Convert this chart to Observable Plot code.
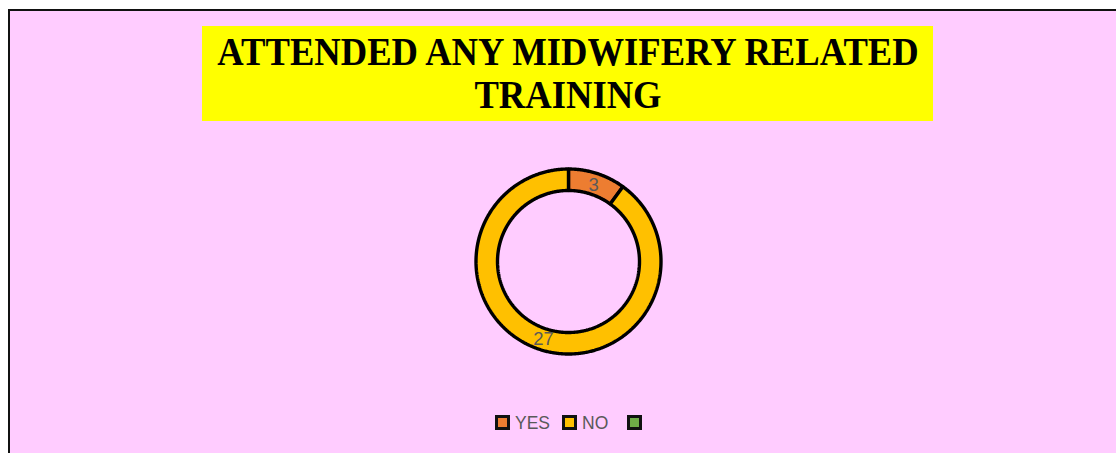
<!DOCTYPE html>
<html>
<head>
<meta charset="utf-8">
<script src="https://cdn.jsdelivr.net/npm/d3@7"></script>
<script src="https://cdn.jsdelivr.net/npm/@observablehq/plot@0.6"></script>
<style>
  html, body { margin: 0; padding: 0; background: #ffffff; width: 1116px; height: 453px; overflow: hidden; }
  #panel { position: absolute; left: 8px; top: 9px; width: 1120px; height: 460px; background: #FFCCFF;
           border-top: 2px solid #111; border-left: 2px solid #111; box-sizing: border-box; }
  #title { position: absolute; left: 202px; top: 26px; width: 731px; height: 95px; background: #FFFF00;
           font-family: "Liberation Serif", "Times New Roman", serif; font-weight: bold; font-size: 40px;
           color: #000; }
  #title .line { position: absolute; left: 50%; white-space: nowrap; line-height: 44px;
                 transform: translateX(-50%) scaleX(0.915); transform-origin: center; }
  #chart { position: absolute; left: 457.8px; top: 151px; }
  #legend { position: absolute; left: 0; top: 413px; width: 1116px; height: 20px;
            font-family: "Liberation Sans", Arial, sans-serif; font-size: 17.5px; color: #595959; }
  .item { position: absolute; top: 0; height: 20px; }
  .sw { position: absolute; top: 2px; width: 15px; height: 15px; box-sizing: border-box; border: 3px solid #111; }
  .lab { position: absolute; top: 0; line-height: 20px; white-space: nowrap; }
</style>
</head>
<body>
<div id="panel"></div>
<div id="title"><div class="line" style="top:4px">ATTENDED ANY MIDWIFERY RELATED</div><div class="line" style="top:46.6px">TRAINING</div></div>
<div id="chart"></div>
<div id="legend"></div>
<script>
const categories = ["YES", "NO", ""];
const values = [3, 27, 0];
const colors = ["#ED7D31", "#FFC000", "#70AD47"];

const outerR = 92.5, innerR = 71, labelR = 81;
const pie = d3.pie().sort(null).value(d => d.value);
const arcs = pie(categories.map((c, i) => ({category: c, value: values[i], color: colors[i]})));

function ringPoints(a) {
  const pts = [];
  const n = Math.max(2, Math.ceil((a.endAngle - a.startAngle) / 0.01));
  for (let k = 0; k <= n; k++) {
    const t = a.startAngle + (a.endAngle - a.startAngle) * k / n;
    pts.push({x: outerR * Math.sin(t), y: -outerR * Math.cos(t)});
  }
  for (let k = n; k >= 0; k--) {
    const t = a.startAngle + (a.endAngle - a.startAngle) * k / n;
    pts.push({x: innerR * Math.sin(t), y: -innerR * Math.cos(t)});
  }
  return pts;
}

const visible = arcs.filter(a => a.data.value > 0);
const sliceMarks = visible.map(a => Plot.line(ringPoints(a), {
  x: "x", y: "y", curve: "linear-closed", fill: a.data.color, stroke: "#000", strokeWidth: 3.4, strokeLinejoin: "miter"
}));
const labels = visible.map(a => {
  const m = (a.startAngle + a.endAngle) / 2;
  return {x: labelR * Math.sin(m), y: -labelR * Math.cos(m), text: String(a.data.value)};
});

const plot = Plot.plot({
  width: 220, height: 220, margin: 0,
  x: {domain: [-110, 110], range: [0, 220], axis: null},
  y: {domain: [-110, 110], range: [0, 220], axis: null},
  style: {background: "transparent", overflow: "visible"},
  marks: [
    ...sliceMarks,
    Plot.text(labels, {x: "x", y: "y", text: "text", fontSize: 18.5, fill: "#595959",
      fontFamily: "Liberation Sans, Arial, sans-serif", dy: 1})
  ]
});
document.getElementById("chart").appendChild(plot);

// legend
const legendPos = [495, 562, 627];
const legend = document.getElementById("legend");
categories.forEach((c, i) => {
  const item = document.createElement("div");
  item.className = "item";
  item.style.left = legendPos[i] + "px";
  const sw = document.createElement("div");
  sw.className = "sw";
  sw.style.background = colors[i];
  item.appendChild(sw);
  const lab = document.createElement("div");
  lab.className = "lab";
  lab.style.left = "20px";
  lab.textContent = c;
  item.appendChild(lab);
  legend.appendChild(item);
});
</script>
</body>
</html>
